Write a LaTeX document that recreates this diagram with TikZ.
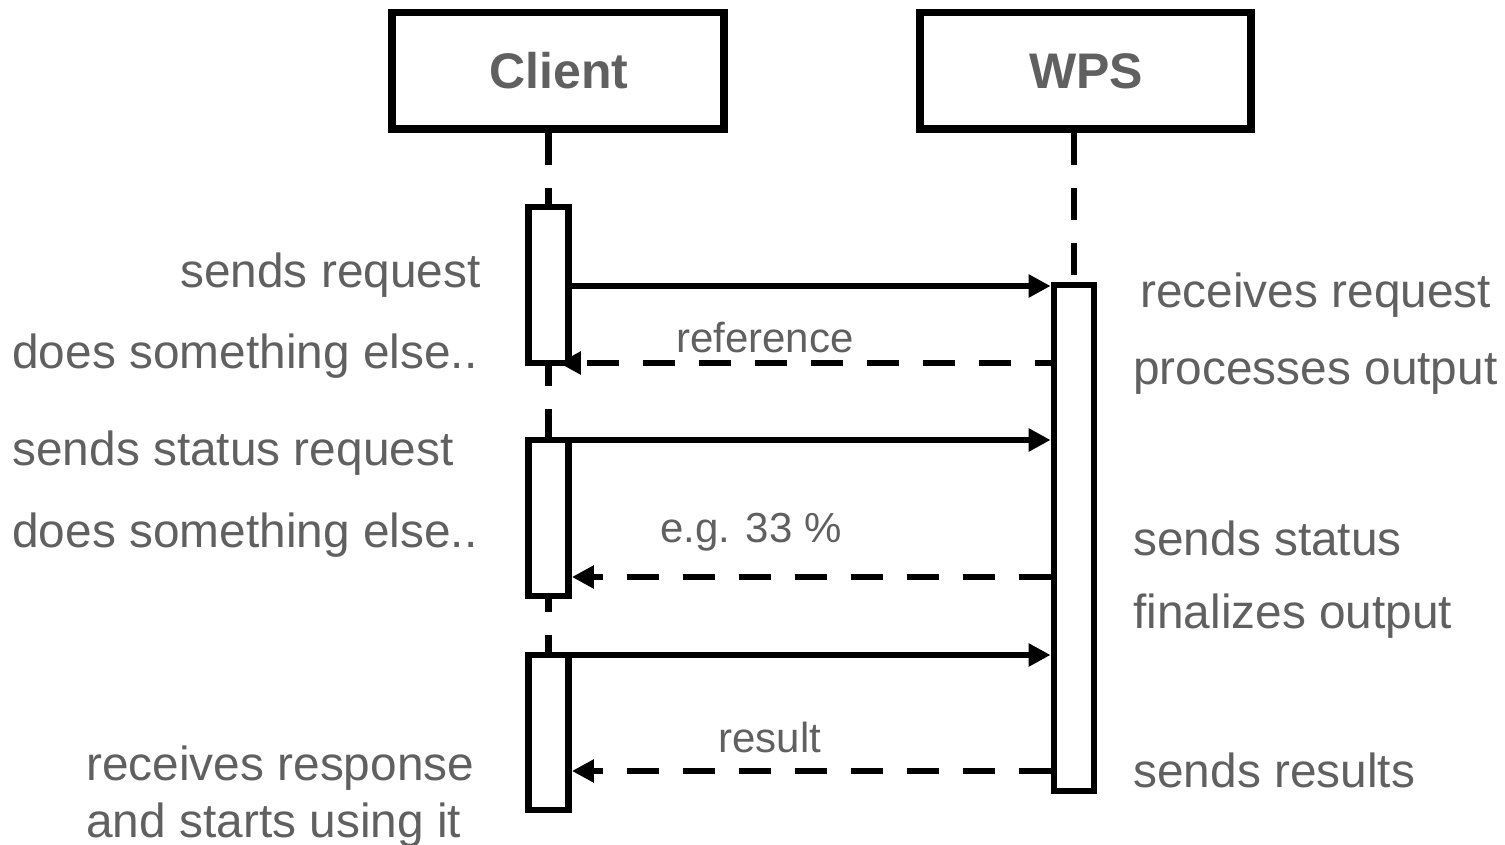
\documentclass[tikz,border=0pt]{standalone}
\usepackage{fontspec}
\setmainfont{Liberation Sans}
\usetikzlibrary{arrows.meta}
\definecolor{txtgray}{RGB}{96,96,96}
\tikzset{
  lifebox/.style={draw=black, line width=3.6pt, fill=white, rectangle, minimum width=#1, minimum height=58.25pt, inner sep=0pt,
    font=\fontsize{25}{30}\selectfont\bfseries, text=txtgray},
  actbox/.style={draw=black, line width=3.4pt, fill=white, rectangle, minimum width=20pt, minimum height=#1, inner sep=0pt},
  lifeline/.style={line width=3.4pt, dash pattern=on 16pt off 11.5pt},
  msg/.style={line width=3.3pt, -{Triangle[length=11pt,width=11pt]}},
  ret/.style={line width=3.3pt, dash pattern=on 16pt off 12pt, -{Triangle[length=11pt,width=11pt]}},
  sidelbl/.style={font=\fontsize{23.9}{28}\selectfont, text=txtgray, inner sep=0pt},
  msglbl/.style={font=\fontsize{21}{25}\selectfont, text=txtgray, inner sep=0pt, anchor=base},
}
\begin{document}
\begin{tikzpicture}[x=0.5pt, y=-0.5pt]
\useasboundingbox (0,0) rectangle (1505,845);

% lifeline heads
\node[lifebox=166pt] (client) at (558,70.75) {};
\node[lifebox=165.5pt] (wps) at (1085.5,70.75) {};
\node[font=\fontsize{25}{30}\selectfont\bfseries, text=txtgray, anchor=base, inner sep=0pt] (clientT) at (559,89) {Client};
\node[font=\fontsize{25}{30}\selectfont\bfseries, text=txtgray, anchor=base, inner sep=0pt] (wpsT) at (1086,89) {WPS};

% activation bars
\node[actbox=78pt] (a1) at (548.5,285) {};
\node[actbox=78pt] (a2) at (548.5,518) {};
\node[actbox=77.5pt] (a3) at (548.5,732.5) {};
\node[actbox=253pt] (w1) at (1074,538) {};

% lifelines
\draw[lifeline] (a1.north |- client.south) -- (a1.north);
\draw[lifeline, dash phase=6pt] (a1.south) -- (a2.north);
\draw[lifeline, dash phase=9.5pt] (a2.south) -- (a3.north);
\draw[lifeline] (w1.north |- wps.south) -- (w1.north);

% message rows
\coordinate (y1) at (0,286);
\coordinate (y2) at (0,363);
\coordinate (y3) at (0,440);
\coordinate (y4) at (0,577);
\coordinate (y5) at (0,655);
\coordinate (y6) at (0,771);

\draw[msg] (a1.east |- y1) -- (w1.west |- y1);
\draw[ret, dash phase=8pt] (w1.west |- y2) -- ([xshift=-6.5pt]a1.east |- y2);
\draw[msg] (a2.east |- y3) -- (w1.west |- y3);
\draw[ret] (w1.west |- y4) -- (a2.east |- y4);
\draw[msg] (a3.east |- y5) -- (w1.west |- y5);
\draw[ret] (w1.west |- y6) -- (a3.east |- y6);

% message labels
\node[msglbl] (l1) at (765,352) {reference};
\node[msglbl] (l2) at (751,542) {e.g. 33 \%};
\node[msglbl] (l3) at (770,752) {result};

% client side texts
\node[sidelbl, anchor=base east] (c1) at (481,288) {sends request};
\node[sidelbl, anchor=base west] (c2) at (12,369) {does something else..};
\node[sidelbl, anchor=base west] (c3) at (12,465) {sends status request};
\node[sidelbl, anchor=base west] (c4) at (12,547) {does something else..};
\node[sidelbl, anchor=base west] (c5) at (86,780) {receives response};
\node[sidelbl, anchor=base west] (c6) at (86,837) {and starts using it};

% wps side texts
\node[sidelbl, anchor=base west] (s1) at (1140,307) {receives request};
\node[sidelbl, anchor=base west] (s2) at (1133,385) {processes output};
\node[sidelbl, anchor=base west] (s3) at (1133,555) {sends status};
\node[sidelbl, anchor=base west] (s4) at (1133,628) {finalizes output};
\node[sidelbl, anchor=base west] (s5) at (1133,787) {sends results};
\end{tikzpicture}
\end{document}
